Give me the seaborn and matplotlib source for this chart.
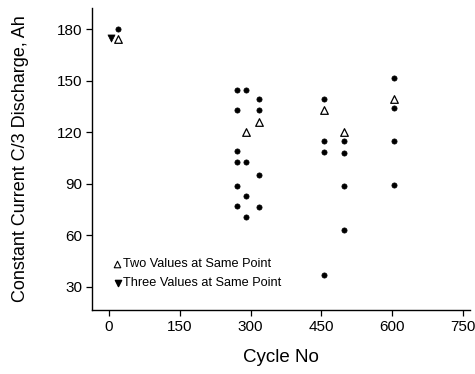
import matplotlib
matplotlib.use("Agg")
import matplotlib.pyplot as plt
import seaborn as sns
import pandas as pd

# Single measurements (filled dots)
dot_cycles = [20,
              272, 272, 272, 272, 272, 272,
              290, 290, 290, 290,
              318, 318, 318, 318,
              455, 455, 455, 455,
              499, 499, 499, 499,
              604, 604, 604, 604]
dot_values = [180,
              144.7, 133, 109, 103, 88.5, 77,
              144.7, 103, 82.7, 71,
              139.3, 133, 95.3, 76.5,
              139.2, 115, 108.8, 37.2,
              115, 108, 89, 63.3,
              151.5, 134, 115, 89.5]

# Two values at same point (open up-triangles)
two_cycles = [20, 290, 318, 455, 499, 604]
two_values = [174.4, 120.5, 126.3, 133, 120.5, 139.3]

# Three values at same point (filled down-triangles)
three_cycles = [5]
three_values = [175]

x_ticks = [0, 150, 300, 450, 600, 750]
y_ticks = [30, 60, 90, 120, 150, 180]

sns.set_theme(style="ticks")
plt.rcParams["font.family"] = ["Liberation Sans", "DejaVu Sans"]

fig = plt.figure(figsize=(4.75, 3.74), dpi=100)
ax = fig.add_axes([0.1937, 0.171, 0.7958, 0.8076])

dots = pd.DataFrame({"cycle": dot_cycles, "cap": dot_values})
two = pd.DataFrame({"cycle": two_cycles, "cap": two_values})
three = pd.DataFrame({"cycle": three_cycles, "cap": three_values})

sns.scatterplot(data=dots, x="cycle", y="cap", ax=ax, marker="o", s=14,
                color="black", edgecolor="black", linewidth=0.5)
sns.scatterplot(data=two, x="cycle", y="cap", ax=ax, marker="^", s=30,
                facecolor="white", edgecolor="black", linewidth=0.9)
sns.scatterplot(data=three, x="cycle", y="cap", ax=ax, marker="v", s=26,
                color="black", edgecolor="black", linewidth=0.5)

ax.set_xlim(-36, 765)
ax.set_ylim(16.5, 192.5)
ax.set_xticks(x_ticks)
ax.set_yticks(y_ticks)
ax.tick_params(axis="both", labelsize=11, length=4, width=0.9, color="black",
               labelcolor="black", pad=3)
for side in ["top", "right"]:
    ax.spines[side].set_visible(False)
for side in ["left", "bottom"]:
    ax.spines[side].set_color("black")
    ax.spines[side].set_linewidth(1.0)

ax.set_xlabel("Cycle No", fontsize=13.5, color="black", labelpad=11)
ax.set_ylabel("Constant Current C/3 Discharge, Ah", fontsize=13,
              color="black", labelpad=20)

# Legend notes
ax.scatter([18], [43.6], marker="^", s=22, facecolor="white",
           edgecolor="black", linewidth=0.8)
ax.text(30, 43.6, "Two Values at Same Point", fontsize=9.2,
        va="center", ha="left", color="black")
ax.scatter([19], [32.4], marker="v", s=20, color="black")
ax.text(30, 32.4, "Three Values at Same Point", fontsize=9.2,
        va="center", ha="left", color="black")

fig.savefig("out.png", dpi=100)
